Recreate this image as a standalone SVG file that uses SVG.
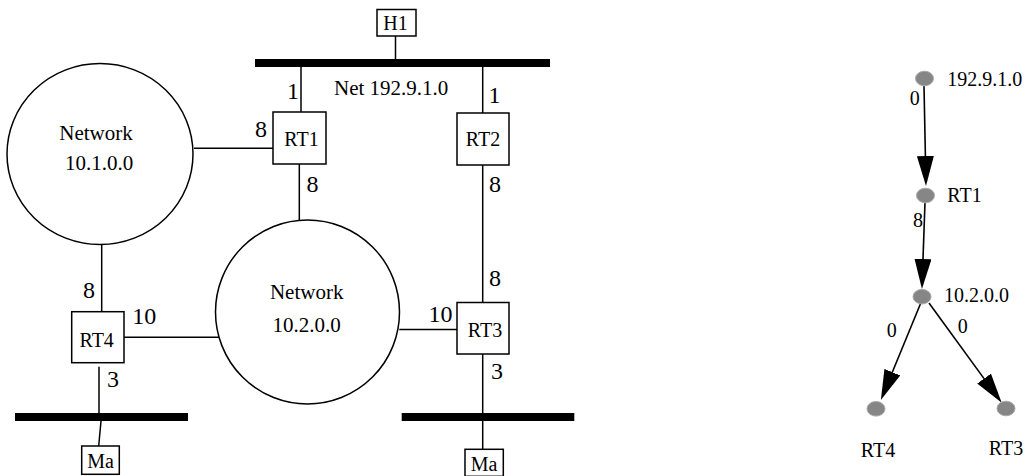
<svg xmlns="http://www.w3.org/2000/svg" width="1027" height="476" viewBox="0 0 1027 476" font-family="'Liberation Serif', 'DejaVu Serif', serif">
<style>
text{font-family:'Liberation Serif','DejaVu Serif',serif;fill:#000}
.lbl{font-size:20px;text-anchor:middle}
.net{font-size:21px;text-anchor:middle}
.cost{font-size:24px;text-anchor:middle}
.ec{font-size:20px;text-anchor:middle}
.tl{font-size:20px}
.box{fill:#fff;stroke:#000;stroke-width:1.5}
.circ{fill:#fff;stroke:#000;stroke-width:1.5}
.bus{fill:#000}
.ln{stroke:#000;stroke-width:1.5;fill:none}
.edge{stroke:#000;stroke-width:1.6;fill:none;marker-end:url(#arr)}
.gn{fill:#868686;stroke:#a8a8a8;stroke-width:1}
</style>
<defs>
<marker id="arr" markerUnits="userSpaceOnUse" markerWidth="31" markerHeight="18" refX="0" refY="8.5" orient="auto" viewBox="0 0 31 18">
<path d="M0,0 L30,8.5 L0,17 z" fill="#000"/>
</marker>
</defs>

<g id="connectors">
<line class="ln" x1="395.5" y1="36" x2="395.5" y2="59"/>
<line class="ln" x1="301" y1="67" x2="301" y2="112"/>
<line class="ln" x1="482.7" y1="67" x2="482.7" y2="113"/>
<line class="ln" x1="194" y1="148.3" x2="273" y2="148.3"/>
<line class="ln" x1="299.3" y1="164" x2="299.3" y2="220"/>
<line class="ln" x1="482.7" y1="165" x2="482.7" y2="302.5"/>
<line class="ln" x1="399.3" y1="329.5" x2="457" y2="329.5"/>
<line class="ln" x1="101.7" y1="244" x2="101.7" y2="311.7"/>
<line class="ln" x1="124" y1="337.3" x2="219" y2="337.3"/>
<line class="ln" x1="99" y1="366.7" x2="99" y2="413"/>
<line class="ln" x1="101" y1="421" x2="98.7" y2="446"/>
<line class="ln" x1="482.7" y1="354" x2="482.7" y2="413"/>
<line class="ln" x1="482.7" y1="421" x2="482.7" y2="449.3"/>
<line class="edge" x1="924" y1="86" x2="925.4" y2="156"/>
<line class="edge" x1="925" y1="202.5" x2="923" y2="259"/>
<line class="edge" x1="921" y1="302.5" x2="892.3" y2="372.2"/>
<line class="edge" x1="929" y1="303" x2="984.05" y2="378.6"/>
<text class="cost" x="293" y="99">1</text>
<text class="cost" x="494.5" y="103">1</text>
<text class="cost" x="261" y="137">8</text>
<text class="cost" x="312.5" y="192">8</text>
<text class="cost" x="495" y="192">8</text>
<text class="cost" x="495" y="286">8</text>
<text class="cost" x="440.5" y="321.7">10</text>
<text class="cost" x="89" y="298">8</text>
<text class="cost" x="144.3" y="324">10</text>
<text class="cost" x="113" y="387.3">3</text>
<text class="cost" x="497" y="379.3">3</text>
<text class="ec" x="914.7" y="105">0</text>
<text class="ec" x="918" y="227">8</text>
<text class="ec" x="891.7" y="336.7">0</text>
<text class="ec" x="962.8" y="333.3">0</text>
</g>

<g id="H1">
<rect class="box" x="377" y="9.5" width="39" height="26.5"/>
<text class="lbl" x="395.5" y="30">H1</text>
</g>
<g id="net-192-9-1-0">
<rect class="bus" x="255" y="59" width="295" height="8"/>
<text style="font-size:21px" x="334" y="95">Net 192.9.1.0</text>
</g>
<g id="RT1">
<rect class="box" x="273" y="112" width="53" height="52"/>
<text class="lbl" x="301.5" y="145.5">RT1</text>
</g>
<g id="RT2">
<rect class="box" x="457" y="113" width="52" height="52"/>
<text class="lbl" x="483" y="146">RT2</text>
</g>
<g id="net-10-1-0-0">
<ellipse class="circ" cx="100" cy="154" rx="93" ry="90.5"/>
<text class="net" x="96" y="140">Network</text>
<text class="net" x="99" y="170">10.1.0.0</text>
</g>
<g id="net-10-2-0-0">
<circle class="circ" cx="307.5" cy="312" r="92"/>
<text class="net" x="306.7" y="299.3">Network</text>
<text class="net" x="306.7" y="331.7">10.2.0.0</text>
</g>
<g id="RT3">
<rect class="box" x="457" y="302.5" width="52" height="51.5"/>
<text class="lbl" x="485" y="336.7">RT3</text>
</g>
<g id="RT4">
<rect class="box" x="71.7" y="311.7" width="52.3" height="51"/>
<text class="lbl" x="96.7" y="346.7">RT4</text>
</g>
<g id="bus-left">
<rect class="bus" x="15" y="413" width="173" height="8"/>
</g>
<g id="bus-right">
<rect class="bus" x="401.7" y="413" width="172.6" height="8"/>
</g>
<g id="Ma-left">
<rect class="box" x="81.7" y="446" width="37.6" height="28.3"/>
<text class="lbl" x="100.5" y="468.3">Ma</text>
</g>
<g id="Ma-right">
<rect class="box" x="465" y="449.3" width="38.3" height="27"/>
<text class="lbl" x="484" y="470.5">Ma</text>
</g>

<g id="t-192-9-1-0">
<ellipse class="gn" cx="924.5" cy="78.5" rx="9" ry="7.3"/>
<text class="tl" x="947.3" y="86">192.9.1.0</text>
</g>
<g id="t-RT1">
<ellipse class="gn" cx="925.5" cy="195.5" rx="9" ry="7.3"/>
<text class="tl" x="947.3" y="202">RT1</text>
</g>
<g id="t-10-2-0-0">
<ellipse class="gn" cx="922" cy="296.7" rx="9" ry="7.3"/>
<text class="tl" x="944" y="302">10.2.0.0</text>
</g>
<g id="t-RT4">
<ellipse class="gn" cx="876" cy="408.8" rx="9" ry="7.3"/>
<text class="lbl" x="878" y="456.7">RT4</text>
</g>
<g id="t-RT3">
<ellipse class="gn" cx="1006" cy="408.5" rx="9" ry="7.3"/>
<text class="lbl" x="1006" y="455">RT3</text>
</g>
</svg>
